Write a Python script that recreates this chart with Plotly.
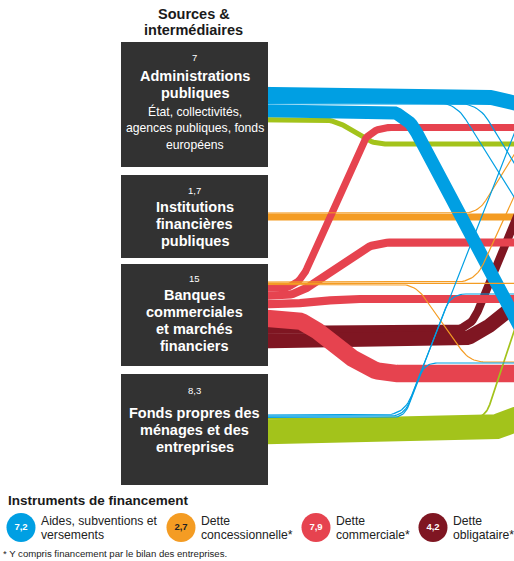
import numpy as np
import plotly.graph_objects as go

# ---- data -------------------------------------------------------------
SOURCES = ["Administrations publiques", "Institutions financières publiques",
           "Banques commerciales et marchés financiers",
           "Fonds propres des ménages et des entreprises"]
SOURCE_TOTALS = ["7", "1,7", "15", "8,3"]

INSTRUMENTS = ["Aides", "Dette concessionnelle", "Dette commerciale", "Dette obligataire", "Fonds propres"]
INSTRUMENT_TOTALS = ["7,2", "2,7", "7,9", "4,2"]
INSTRUMENT_LABELS = [["Aides, subventions et", "versements"], ["Dette", "concessionnelle*"],
                     ["Dette", "commerciale*"], ["Dette", "obligataire*"]]

# one entry per ribbon, in stacking order inside each source box
FLOW_SOURCE = [0, 0, 0, 0, 0,
               1, 1,
               2, 2, 2, 2, 2, 2, 2, 2, 2,
               3, 3, 3, 3, 3]
FLOW_INSTRUMENT = [0, 0, 0, 0, 4,
                   1, 1,
                   1, 1, 1, 2, 2, 2, 2, 3, 3,
                   0, 0, 0, 4, 4]
FLOW_VALUE = [3.1, 0.25, 0.25, 2.7, 1.05,
              0.25, 1.45,
              0.25, 0.25, 0.25, 1.5, 1.7, 1.7, 3.6, 1.7, 3.0,
              0.25, 0.25, 0.25, 0.35, 5.2]

# ---- layout / routing ---------------------------------------------------
PX_PER_UNIT = 4.8
COLORS = ["#009fe3", "#f49c23", "#e6434f", "#7f1622", "#a3c31b"]
Z_RANK = [4, 1, 3, 2, 0]

BOX_X = (121, 268)
BOX_TOP = [42, 175, 264, 374]
BOX_BOTTOM = [167, 258, 366, 485]

# (bend start x, bend end x, level reached on the right, corner radius); None = straight
ROUTES = [(485, 600, 130, 30), (455, 541, 240, 20), (478, 567, 250, 20), (405, 569, 420, 25), (335, 372, 144, 15),
          (478, 548, 100, 15), None,
          (475, 549, 120, 20), None, (415, 470, 362, 15), (298, 369, 127.5, 22), (295, 372, 242.5, 20),
          (285, 345, 299, 15), (300, 372, 373.5, 25), (470, 557, 120, 20), (470, 584, 250, 25),
          (404, 543, 60, 20), (404, 451, 294, 15), (404, 425, 363, 12), (485, 541, 250, 15), (492, 563, 390, 30)]

BOX_TEXT = [
    [("7", 57, "num"), ("Administrations", 76, "b"), ("publiques", 93, "b"),
     ("État, collectivités,", 111, "n"), ("agences publiques, fonds", 128, "n"), ("européens", 145, "n")],
    [("1,7", 190, "num"), ("Institutions", 207, "b"), ("financières", 224, "b"), ("publiques", 241, "b")],
    [("15", 278, "num"), ("Banques", 295, "b"), ("commerciales", 312, "b"), ("et marchés", 329, "b"),
     ("financiers", 346, "b")],
    [("8,3", 390, "num"), ("Fonds propres des", 413, "b"), ("ménages et des", 430, "b"), ("entreprises", 447, "b")],
]

FONT = "Liberation Sans, Arial, sans-serif"


def rounded_path(pts, r):
    out = [pts[0]]
    for k in range(1, len(pts) - 1):
        a, p, b = np.array(pts[k - 1], float), np.array(pts[k], float), np.array(pts[k + 1], float)
        da, db = np.linalg.norm(a - p), np.linalg.norm(b - p)
        rr = min(r, da / 2, db / 2)
        p1 = p + (a - p) / da * rr
        p2 = p + (b - p) / db * rr
        for t in np.linspace(0, 1, 16):
            q = (1 - t) ** 2 * p1 + 2 * (1 - t) * t * p + t ** 2 * p2
            out.append((q[0], q[1]))
    out.append(pts[-1])
    return out


# stack ribbons on the centre of their source box
n = len(FLOW_VALUE)
y_start = [0.0] * n
for s in range(len(SOURCES)):
    idx = [i for i in range(n) if FLOW_SOURCE[i] == s]
    total = sum(FLOW_VALUE[i] for i in idx) * PX_PER_UNIT
    y = (BOX_TOP[s] + BOX_BOTTOM[s]) / 2 - total / 2
    for i in idx:
        w = FLOW_VALUE[i] * PX_PER_UNIT
        y_start[i] = y + w / 2
        y += w

fig = go.Figure()

order = sorted(range(n), key=lambda i: (FLOW_VALUE[i] < 0.5, Z_RANK[FLOW_INSTRUMENT[i]]))
for i in order:
    y0 = y_start[i]
    if ROUTES[i] is None:
        pts = [(255, y0), (800, y0)]
    else:
        xa, xb, y1, r = ROUTES[i]
        pts = rounded_path([(255, y0), (xa, y0), (xb, y1), (800, y1)], r)
    fig.add_trace(go.Scatter(
        x=[p[0] for p in pts], y=[p[1] for p in pts], mode="lines",
        line=dict(color=COLORS[FLOW_INSTRUMENT[i]], width=FLOW_VALUE[i] * PX_PER_UNIT),
        hoverinfo="skip", showlegend=False))

# source boxes
cx = (BOX_X[0] + BOX_X[1]) / 2
for s in range(len(SOURCES)):
    fig.add_shape(type="rect", x0=BOX_X[0], x1=BOX_X[1], y0=BOX_TOP[s], y1=BOX_BOTTOM[s],
                  fillcolor="#323232", line_width=0, layer="above")
    for txt, yy, kind in BOX_TEXT[s]:
        if kind == "num":
            font = dict(family=FONT, size=9.5, color="white")
        elif kind == "b":
            font = dict(family=FONT, size=14.5, color="white")
            txt = "<b>" + txt + "</b>"
        else:
            font = dict(family=FONT, size=12.2, color="white")
        fig.add_annotation(x=cx, y=yy, text=txt, showarrow=False, font=font,
                           xanchor="center", yanchor="middle")

fig.add_annotation(x=cx - 1, y=14, text="<b>Sources &</b>", showarrow=False,
                   font=dict(family=FONT, size=14.5, color="#1a1a1a"))
fig.add_annotation(x=cx - 1, y=30, text="<b>intermédiaires</b>", showarrow=False,
                   font=dict(family=FONT, size=14.5, color="#1a1a1a"))

# instrument legend
LEG_X = [21, 181, 316, 433]
LEG_Y = 527.5
fig.add_trace(go.Scatter(
    x=LEG_X, y=[LEG_Y] * 4, mode="markers+text", text=INSTRUMENT_TOTALS,
    marker=dict(size=29, color=COLORS[:4], line_width=0),
    textposition="middle center",
    textfont=dict(family=FONT, size=9.5, color=["white", "#222222", "white", "white"], weight="bold"),
    hoverinfo="skip", showlegend=False))
for k, lines in enumerate(INSTRUMENT_LABELS):
    for j, line in enumerate(lines):
        fig.add_annotation(x=LEG_X[k] + 18, y=LEG_Y - 6.5 + 14 * j, text=line, showarrow=False,
                           xanchor="left", font=dict(family=FONT, size=12.2, color="#222222"))

fig.add_annotation(x=6, y=500, text="<b>Instruments de financement</b>", showarrow=False, xanchor="left",
                   font=dict(family=FONT, size=13.5, color="#1a1a1a"))
fig.add_annotation(x=1, y=553, text="* Y compris financement par le bilan des entreprises.", showarrow=False,
                   xanchor="left", font=dict(family=FONT, size=9.6, color="#222222"))

fig.update_layout(
    width=514, height=561, margin=dict(l=0, r=0, t=0, b=0),
    paper_bgcolor="white", plot_bgcolor="white",
    xaxis=dict(range=[0, 514], visible=False, fixedrange=True),
    yaxis=dict(range=[561, 0], visible=False, fixedrange=True),
)

fig.write_html("out.html", config={"displayModeBar": False},
               post_script="document.body.style.margin='0';document.body.style.overflow='hidden';")
